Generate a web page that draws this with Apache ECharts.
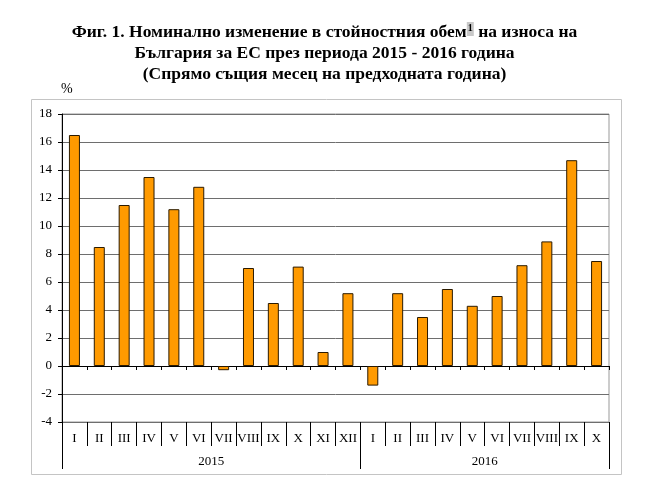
<!DOCTYPE html>
<html>
<head>
<meta charset="utf-8">
<script src="https://cdn.jsdelivr.net/npm/echarts@6/dist/echarts.min.js"></script>
<style>html,body{margin:0;padding:0;background:#fff}#c{width:649px;height:487px}</style>
</head>
<body>
<div id="c"></div>
<script>
var months = ['I','II','III','IV','V','VI','VII','VIII','IX','X','XI','XII','I','II','III','IV','V','VI','VII','VIII','IX','X'];
var values = [16.5,8.5,11.5,13.5,11.2,12.8,-0.3,7.0,4.5,7.1,1.0,5.2,-1.4,5.2,3.5,5.5,4.3,5.0,7.2,8.9,14.7,7.5];
var years = ['2015','2016'];
var yearSpans = [12,10];
var yTicks = {min:-4, max:18, step:2};

var yearBounds = [0];
yearSpans.forEach(function(s){ yearBounds.push(yearBounds[yearBounds.length-1]+s); });
var yearCenters = [];
for (var i=0;i<yearSpans.length;i++){ yearCenters.push((yearBounds[i]+yearBounds[i+1])/2); }

var FONT = 'Liberation Serif';
var chart = echarts.init(document.getElementById('c'), null, {renderer:'canvas'});
chart.setOption({
  animation:false,
  backgroundColor:'#fff',
  title:{
    left:'center', top:17,
    text:'Фиг. 1. Номинално изменение в стойностния обем{sup|1} на износа на\nБългария за ЕС през периода 2015 - 2016 година\n(Спрямо същия месец на предходната година)',
    textStyle:{
      fontFamily:FONT, fontWeight:'bold', fontSize:17.5, color:'#000', lineHeight:21,
      rich:{ sup:{fontFamily:FONT, fontWeight:'bold', fontSize:10, color:'#000', backgroundColor:'#c8c8c8', verticalAlign:'top', lineHeight:21, padding:[1,1,3,1]} }
    }
  },
  graphic:[
    {type:'rect', shape:{x:31.5,y:99.5,width:590,height:375}, style:{fill:'none', stroke:'#c4c4c4', lineWidth:1}, silent:true, z:-1},
    {type:'text', left:61, top:82, style:{text:'%', font:'14px "Liberation Serif"', fill:'#000'}}
  ],
  grid:{left:62, right:40, top:114, bottom:65, show:true, borderColor:'#999', borderWidth:1, backgroundColor:'transparent'},
  xAxis:[
    {
      type:'category', data:months, position:'bottom',
      axisLine:{onZero:true, lineStyle:{color:'#000', width:1}},
      axisTick:{show:true, length:4, lineStyle:{color:'#000'}},
      axisLabel:{show:false}, splitLine:{show:false}
    },
    {
      type:'category', data:months, position:'bottom', gridIndex:0,
      axisLine:{show:false, onZero:false},
      axisTick:{show:true, length:24, interval:0, lineStyle:{color:'#000'}},
      axisLabel:{show:true, interval:0, margin:10, fontFamily:FONT, fontSize:13, color:'#000'},
      splitLine:{show:false}
    },
    {
      type:'value', min:0, max:months.length, position:'bottom', gridIndex:0,
      axisLine:{show:false, onZero:false},
      axisTick:{show:true, length:47, customValues:yearBounds, lineStyle:{color:'#000'}},
      axisLabel:{show:true, customValues:yearCenters, margin:33, fontFamily:FONT, fontSize:13, color:'#000',
        formatter:function(v){ var k = yearCenters.indexOf(v); return k>=0 ? years[k] : ''; }},
      splitLine:{show:false}
    }
  ],
  yAxis:{
    type:'value', min:yTicks.min, max:yTicks.max, interval:yTicks.step,
    axisLine:{show:true, lineStyle:{color:'#000'}},
    axisTick:{show:true, length:4, lineStyle:{color:'#000'}},
    axisLabel:{margin:10, fontFamily:FONT, fontSize:13, color:'#000'},
    splitLine:{show:true, lineStyle:{color:'#6e6e6e', width:1}}
  },
  series:[{
    type:'bar', data:values, xAxisIndex:0, barWidth:11,
    itemStyle:{color:'#FF9A00', borderColor:'#2b1a00', borderWidth:1}
  }]
});
</script>
</body>
</html>
